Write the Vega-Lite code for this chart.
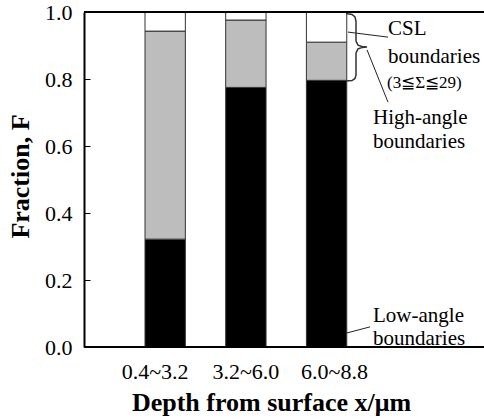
{
  "$schema": "https://vega.github.io/schema/vega-lite/v6.json",
  "width": 400,
  "height": 335,
  "autosize": {"type": "none"},
  "padding": {"left": 84, "top": 12, "right": 0, "bottom": 72},
  "background": "white",
  "config": {"view": {"stroke": null}, "font": "Liberation Serif"},
  "datasets": {
    "bars": [
      {"depth": "0.4~3.2", "type": "Low-angle", "k": 1, "F": 0.322},
      {"depth": "0.4~3.2", "type": "High-angle", "k": 2, "F": 0.621},
      {"depth": "0.4~3.2", "type": "CSL", "k": 3, "F": 0.057},
      {"depth": "3.2~6.0", "type": "Low-angle", "k": 1, "F": 0.775},
      {"depth": "3.2~6.0", "type": "High-angle", "k": 2, "F": 0.201},
      {"depth": "3.2~6.0", "type": "CSL", "k": 3, "F": 0.024},
      {"depth": "6.0~8.8", "type": "Low-angle", "k": 1, "F": 0.796},
      {"depth": "6.0~8.8", "type": "High-angle", "k": 2, "F": 0.114},
      {"depth": "6.0~8.8", "type": "CSL", "k": 3, "F": 0.090}
    ],
    "frame": [
      {"ax": 0, "ax2": 100, "ay": 1, "ay2": 1},
      {"ax": 0, "ax2": 100, "ay": 0, "ay2": 0}
    ],
    "leaders": [
      {"ax": 66, "ax2": 76, "ay": 0.940, "ay2": 0.925},
      {"ax": 70.75, "ax2": 76, "ay": 0.887, "ay2": 0.731},
      {"ax": 65.75, "ax2": 71.5, "ay": 0.042, "ay2": 0.060}
    ],
    "brace": [
      {"i": 1, "ax": 65.5, "ay": 0.9955},
      {"i": 2, "ax": 67, "ay": 0.9925},
      {"i": 3, "ax": 67.75, "ay": 0.985},
      {"i": 4, "ax": 68, "ay": 0.973},
      {"i": 5, "ax": 68, "ay": 0.913},
      {"i": 6, "ax": 68.5, "ay": 0.901},
      {"i": 7, "ax": 69.5, "ay": 0.897},
      {"i": 8, "ax": 70.75, "ay": 0.8955},
      {"i": 9, "ax": 69.5, "ay": 0.894},
      {"i": 10, "ax": 68.5, "ay": 0.890},
      {"i": 11, "ax": 68, "ay": 0.878},
      {"i": 12, "ax": 68, "ay": 0.812},
      {"i": 13, "ax": 67.75, "ay": 0.8015},
      {"i": 14, "ax": 67, "ay": 0.7955},
      {"i": 15, "ax": 65.5, "ay": 0.794}
    ],
    "notes": [
      {"ax": 76, "ay": 0.931, "label": "CSL"},
      {"ax": 76, "ay": 0.848, "label": "boundaries"},
      {"ax": 72.25, "ay": 0.666, "label": "High-angle"},
      {"ax": 72.25, "ay": 0.594, "label": "boundaries"},
      {"ax": 72.25, "ay": 0.0746, "label": "Low-angle"},
      {"ax": 72.25, "ay": 0.006, "label": "boundaries"}
    ],
    "sigma": [
      {"ax": 75.75, "ay": 0.773, "label": "(3≦Σ≦29)"}
    ]
  },
  "resolve": {"scale": {"x": "independent"}},
  "layer": [
    {
      "data": {"name": "bars"},
      "mark": {"type": "bar", "stroke": "#333333", "strokeWidth": 1},
      "encoding": {
        "x": {
          "field": "depth", "type": "nominal",
          "scale": {"range": [20.65, 303.1], "paddingInner": 0.5, "paddingOuter": 0.5},
          "axis": {
            "title": "Depth from surface x/μm",
            "titleFont": "Liberation Serif", "titleFontSize": 26, "titleFontWeight": "bold", "titleColor": "black",
            "titleX": 187, "titleY": 63, "titleAlign": "center", "titleBaseline": "alphabetic",
            "labelAngle": 0, "labelFont": "Liberation Serif", "labelFontSize": 22, "labelColor": "black",
            "labelPadding": 14,
            "labelOffset": {"condition": [{"test": "datum.value == '0.4~3.2'", "value": -10}, {"test": "datum.value == '6.0~8.8'", "value": 8}], "value": 0},
            "ticks": false, "domain": false
          }
        },
        "y": {
          "field": "F", "type": "quantitative", "stack": "zero",
          "scale": {"domain": [0, 1], "nice": false},
          "axis": {
            "title": "Fraction, F",
            "titleFont": "Liberation Serif", "titleFontSize": 26, "titleFontWeight": "bold", "titleColor": "black",
            "titleX": -64, "titleY": 164, "titleAlign": "center", "titleBaseline": "middle", "titleAngle": -90,
            "values": [0, 0.2, 0.4, 0.6, 0.8, 1.0], "format": ".1f",
            "labelFont": "Liberation Serif", "labelFontSize": 22, "labelColor": "black",
            "tickSize": -6, "tickColor": "black", "tickWidth": 1, "labelPadding": 18,
            "grid": false, "domainColor": "black", "domainWidth": 2
          }
        },
        "color": {
          "field": "type", "type": "nominal",
          "scale": {"domain": ["Low-angle", "High-angle", "CSL"], "range": ["#000000", "#bdbdbd", "#ffffff"]},
          "legend": null
        },
        "order": {"field": "k", "type": "quantitative"}
      }
    },
    {
      "data": {"name": "frame"},
      "mark": {"type": "rule", "color": "black", "strokeWidth": 2},
      "encoding": {
        "x": {"field": "ax", "type": "quantitative", "scale": {"domain": [0, 100], "nice": false}, "axis": null},
        "x2": {"field": "ax2"},
        "y": {"field": "ay", "type": "quantitative"},
        "y2": {"field": "ay2"}
      }
    },
    {
      "data": {"name": "leaders"},
      "mark": {"type": "rule", "color": "#222222", "strokeWidth": 1},
      "encoding": {
        "x": {"field": "ax", "type": "quantitative", "scale": {"domain": [0, 100], "nice": false}, "axis": null},
        "x2": {"field": "ax2"},
        "y": {"field": "ay", "type": "quantitative"},
        "y2": {"field": "ay2"}
      }
    },
    {
      "data": {"name": "brace"},
      "mark": {"type": "line", "color": "#333333", "strokeWidth": 1.5},
      "encoding": {
        "x": {"field": "ax", "type": "quantitative", "scale": {"domain": [0, 100], "nice": false}, "axis": null},
        "y": {"field": "ay", "type": "quantitative"},
        "order": {"field": "i", "type": "quantitative"}
      }
    },
    {
      "data": {"name": "notes"},
      "mark": {"type": "text", "align": "left", "baseline": "alphabetic", "font": "Liberation Serif", "fontSize": 21, "color": "black"},
      "encoding": {
        "x": {"field": "ax", "type": "quantitative", "scale": {"domain": [0, 100], "nice": false}, "axis": null},
        "y": {"field": "ay", "type": "quantitative"},
        "text": {"field": "label"}
      }
    },
    {
      "data": {"name": "sigma"},
      "mark": {"type": "text", "align": "left", "baseline": "alphabetic", "font": "Liberation Serif", "fontSize": 17, "color": "black"},
      "encoding": {
        "x": {"field": "ax", "type": "quantitative", "scale": {"domain": [0, 100], "nice": false}, "axis": null},
        "y": {"field": "ay", "type": "quantitative"},
        "text": {"field": "label"}
      }
    }
  ]
}
